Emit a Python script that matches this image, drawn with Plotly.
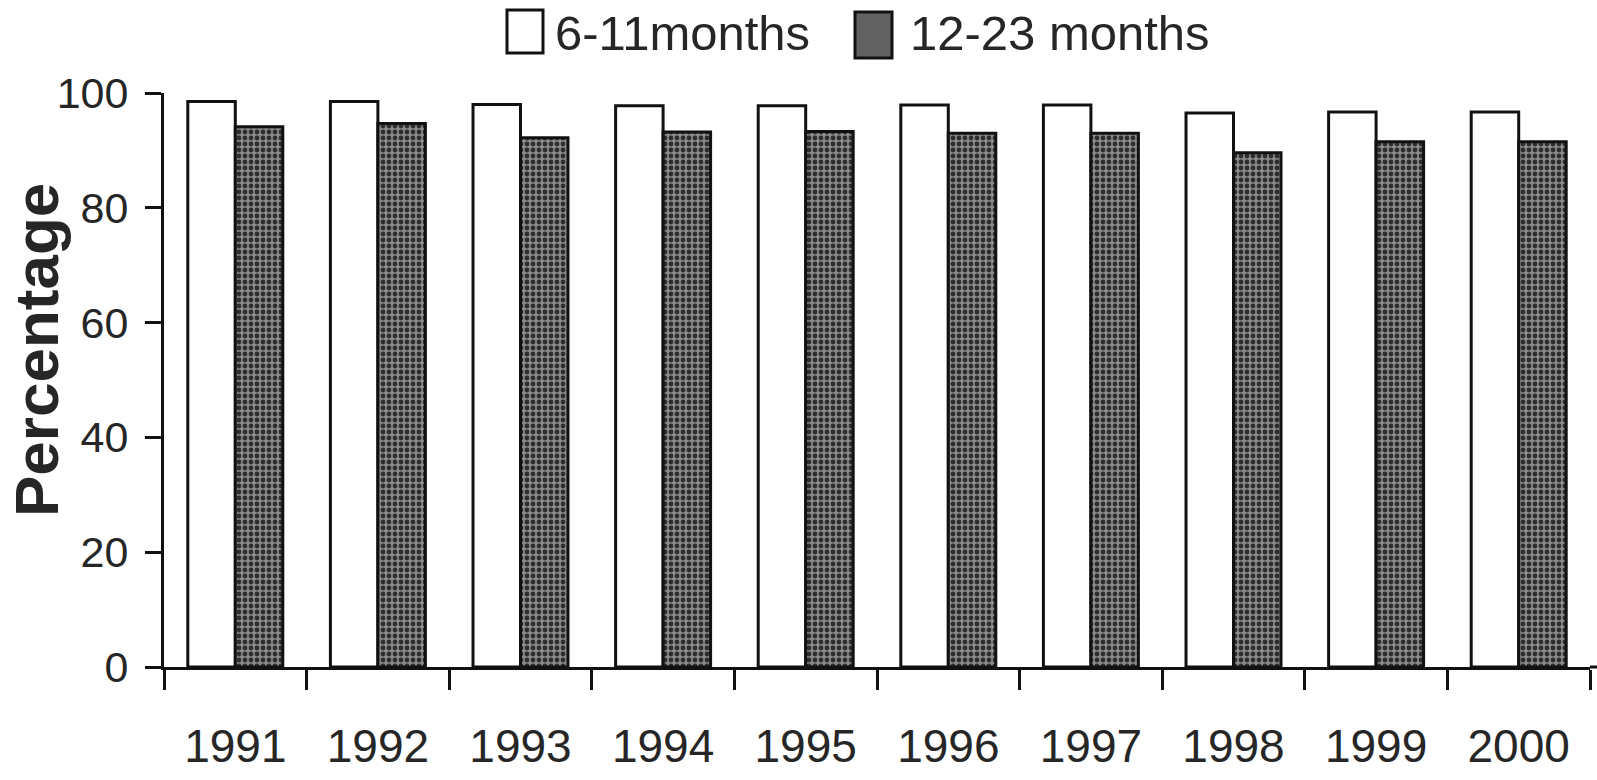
import plotly.graph_objects as go

# Immunisation coverage by age group, 1991-2000
years = ["1991", "1992", "1993", "1994", "1995", "1996", "1997", "1998", "1999", "2000"]
infants_6_11 = [98.5, 98.5, 98.0, 97.8, 97.8, 97.9, 97.9, 96.5, 96.7, 96.7]
toddlers_12_23 = [94.1, 94.7, 92.2, 93.2, 93.3, 93.0, 93.0, 89.6, 91.5, 91.5]
series_names = ["6-11months", "12-23 months"]
y_ticks = [0, 20, 40, 60, 80, 100]

W, H = 1597, 780
M_L, M_R, M_T, M_B = 164, 7, 93, 113
PLOT_W = W - M_L - M_R
PLOT_H = H - M_T - M_B

FONT = "Liberation Sans, Arial, Helvetica, sans-serif"
TEXT = "#262626"


def px_x(x):
    return (x - M_L) / PLOT_W


def px_y(y):
    return (H - M_B - y) / PLOT_H


fig = go.Figure()
fig.add_trace(go.Bar(
    x=years, y=infants_6_11, name=series_names[0],
    marker=dict(color="white", line=dict(color="#111111", width=3)),
))
fig.add_trace(go.Bar(
    x=years, y=toddlers_12_23, name=series_names[1],
    marker=dict(
        color="#6e6e6e",
        line=dict(color="#111111", width=3),
        pattern=dict(shape=".", fgcolor="#2e2e2e", bgcolor="#8a8a8a",
                     size=6, solidity=0.5, fillmode="replace"),
    ),
))

# hand-drawn legend across the top
legend_items = [
    dict(box=(507, 543, 10, 53), fill="white", text_x=553),
    dict(box=(855, 892, 12, 58), fill="#626262", text_x=908),
]
shapes = []
annotations = []
for name, item in zip(series_names, legend_items):
    x0, x1, y0, y1 = item["box"]
    shapes.append(dict(
        type="rect", xref="paper", yref="paper",
        x0=px_x(x0), x1=px_x(x1), y0=px_y(y1), y1=px_y(y0),
        fillcolor=item["fill"], line=dict(color="#111111", width=3),
    ))
    annotations.append(dict(
        text=name, xref="paper", yref="paper", showarrow=False,
        x=px_x(item["text_x"]), y=px_y(33), xanchor="left", yanchor="middle",
        font=dict(family=FONT, size=49, color=TEXT),
    ))

# vertical axis title
annotations.append(dict(
    text="Percentage", xref="paper", yref="paper", showarrow=False,
    x=px_x(36), y=px_y(350), xanchor="center", yanchor="middle",
    textangle=-90, font=dict(family=FONT, size=62, color=TEXT, weight="bold"),
))

# baseline runs on past the last category boundary
shapes.append(dict(
    type="line", xref="paper", yref="paper",
    x0=1, x1=px_x(W), y0=0, y1=0, line=dict(color="#111111", width=3),
))

fig.update_layout(
    width=W, height=H, autosize=False,
    margin=dict(l=M_L, r=M_R, t=M_T, b=M_B, pad=0),
    paper_bgcolor="white", plot_bgcolor="white",
    barmode="group", bargap=0.334, bargroupgap=0,
    showlegend=False,
    shapes=shapes, annotations=annotations,
    font=dict(family=FONT, color=TEXT),
)
fig.update_xaxes(
    type="category", showgrid=False, zeroline=False,
    showline=True, linecolor="#111111", linewidth=3,
    ticks="outside", tickson="boundaries", ticklen=20, tickwidth=3, tickcolor="#111111",
    ticklabelstandoff=37,
    tickfont=dict(family=FONT, size=46, color=TEXT),
)
fig.update_yaxes(
    range=[0, 100], tickvals=y_ticks, showgrid=False, zeroline=False,
    showline=True, linecolor="#111111", linewidth=3,
    ticks="outside", ticklen=16, tickwidth=3, tickcolor="#111111",
    ticklabelstandoff=8,
    tickfont=dict(family=FONT, size=43, color=TEXT),
)

fig.write_html("out.html")
